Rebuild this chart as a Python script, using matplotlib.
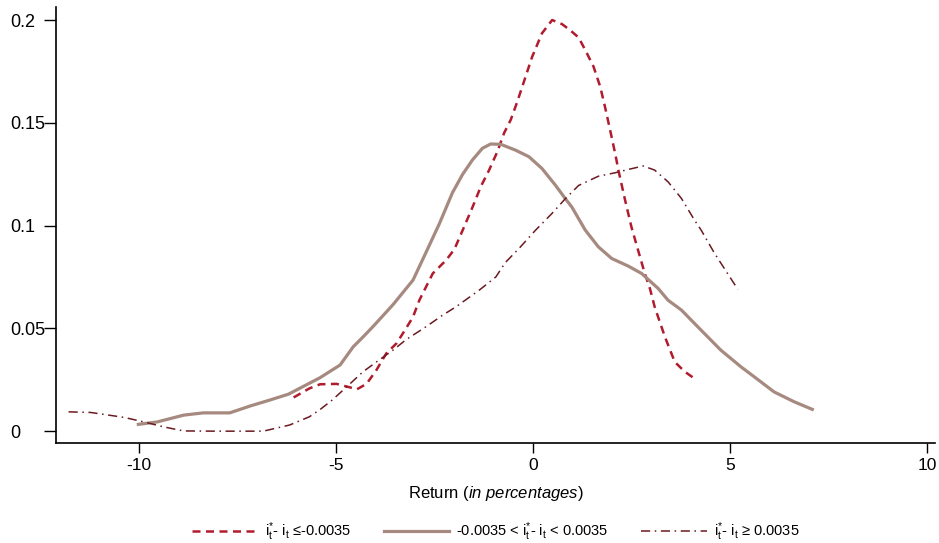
'''
kernel densities of returns by interest rate differential bucket
'''
import matplotlib
matplotlib.use('Agg')
import matplotlib.pyplot as plt

# data
low_x = [-6.07, -5.67, -5.40, -4.98, -4.64, -4.47, -4.22, -3.97, -3.72, -3.46,
         -3.25, -3.04, -2.88, -2.54, -2.20, -1.99, -1.78, -1.53, -1.32, -1.11,
         -0.90, -0.73, -0.56, -0.40, -0.27, -0.02, 0.23, 0.49, 0.74, 0.95,
         1.16, 1.33, 1.54, 1.71, 1.83, 1.96, 2.10, 2.17, 2.34, 2.50,
         2.67, 2.84, 2.97, 3.09, 3.35, 3.60, 3.85, 4.10]
low_y = [0.0164, 0.0208, 0.0228, 0.0230, 0.0213, 0.0203, 0.0230, 0.0297, 0.0378, 0.0427,
         0.0490, 0.0556, 0.0637, 0.0767, 0.0832, 0.0885, 0.0978, 0.1090, 0.1190, 0.1270,
         0.1360, 0.1450, 0.1515, 0.1600, 0.1675, 0.1820, 0.1935, 0.2000, 0.1980, 0.1950,
         0.1915, 0.1854, 0.1773, 0.1675, 0.1578, 0.1465, 0.1340, 0.1270, 0.1124, 0.0994,
         0.0880, 0.0767, 0.0694, 0.0605, 0.0459, 0.0337, 0.0290, 0.0256]

mid_x = [-10.01, -9.53, -8.86, -8.36, -7.69, -7.18, -6.68, -6.20, -5.90, -5.40,
         -4.89, -4.56, -4.30, -4.05, -3.55, -3.04, -2.71, -2.37, -2.04, -1.78,
         -1.53, -1.28, -1.07, -0.81, -0.44, -0.10, 0.23, 0.57, 0.82, 0.99,
         1.33, 1.66, 2.00, 2.42, 2.76, 3.18, 3.43, 3.77, 4.27, 4.77,
         5.28, 5.62, 6.12, 6.63, 7.09]
mid_y = [0.0033, 0.0045, 0.0078, 0.0089, 0.0089, 0.0122, 0.0151, 0.0180, 0.0210, 0.0260,
         0.0322, 0.0410, 0.0460, 0.0510, 0.0615, 0.0735, 0.0870, 0.1010, 0.1160, 0.1250,
         0.1320, 0.1376, 0.1397, 0.1395, 0.1367, 0.1335, 0.1278, 0.1197, 0.1132, 0.1090,
         0.0978, 0.0897, 0.0840, 0.0803, 0.0767, 0.0694, 0.0637, 0.0589, 0.0491, 0.0394,
         0.0313, 0.0264, 0.0191, 0.0143, 0.0106]

high_x = [-11.78, -11.22, -10.37, -9.87, -9.37, -8.86, -8.00, -7.20, -6.84, -6.17,
          -5.67, -5.40, -5.10, -4.72, -4.31, -3.88, -3.55, -3.21, -2.71, -2.29,
          -1.95, -1.36, -0.94, -0.70, -0.35, 0.07, 0.49, 0.82, 1.16, 1.66,
          2.09, 2.42, 2.80, 3.09, 3.43, 3.77, 4.10, 4.27, 4.61, 4.94, 5.20]
high_y = [0.0094, 0.0091, 0.0067, 0.0045, 0.0021, 0.0001, 0.0, 0.0, 0.0, 0.0030,
          0.0070, 0.0105, 0.0150, 0.0216, 0.0289, 0.0349, 0.0394, 0.0446, 0.0508, 0.0564,
          0.0605, 0.0686, 0.0750, 0.0820, 0.0889, 0.0978, 0.1060, 0.1130, 0.1195, 0.1240,
          0.1257, 0.1273, 0.1290, 0.1270, 0.1213, 0.1132, 0.1027, 0.0978, 0.0865, 0.0767,
          0.0690]

labels = [r'$\mathrm{i}_\mathrm{t}^{*}$- $\mathrm{i}_\mathrm{t}$ ≤-0.0035',
          r'-0.0035 < $\mathrm{i}_\mathrm{t}^{*}$- $\mathrm{i}_\mathrm{t}$ < 0.0035',
          r'$\mathrm{i}_\mathrm{t}^{*}$- $\mathrm{i}_\mathrm{t}$ ≥ 0.0035']

yticks = [0, 0.05, 0.1, 0.15, 0.2]
ytick_labels = ['0', '0.05', '0.1', '0.15', '0.2']
xticks = [-10, -5, 0, 5, 10]

# %%
plt.rcParams['font.family'] = ['Liberation Sans', 'DejaVu Sans']
plt.rcParams['mathtext.fontset'] = 'custom'
plt.rcParams['mathtext.rm'] = 'Liberation Sans'
plt.rcParams['mathtext.it'] = 'Liberation Sans:italic'

fig = plt.figure(figsize=(9.39, 5.43), dpi=100)
ax = fig.add_axes([0.0596, 0.184, 0.936, 0.803])

ax.plot(low_x, low_y, color='#b01c2e', lw=1.8, ls=(0, (3.2, 2.2)), label=labels[0])
ax.plot(mid_x, mid_y, color='#a68a80', lw=2.3, ls='-', label=labels[1])
ax.plot(high_x, high_y, color='#6b1a20', lw=1.1, ls=(0, (6, 3, 1, 3)), label=labels[2])

ax.set_xlim(-12.1, 10.2)
ax.set_ylim(-0.0058, 0.2063)
ax.set_xticks(xticks)
ax.set_xticklabels([str(t) for t in xticks])
ax.set_yticks(yticks)
ax.set_yticklabels(ytick_labels)

for s in ['top', 'right']:
    ax.spines[s].set_visible(False)
for s in ['left', 'bottom']:
    ax.spines[s].set_linewidth(1.2)
    ax.spines[s].set_color('black')

ax.tick_params(axis='y', length=9, width=1.0, pad=24, labelsize=13)
ax.tick_params(axis='x', length=7, width=1.0, pad=4, labelsize=12.5)
for lab in ax.get_yticklabels():
    lab.set_horizontalalignment('left')

ax.set_xlabel(r'Return ($\mathit{in\ percentages}$)', fontsize=12, labelpad=8)

fig.legend(loc='center', bbox_to_anchor=(0.528, 0.02), ncol=3, frameon=False,
           fontsize=10.5, handlelength=4.5, handletextpad=0.5, columnspacing=2.2)

fig.savefig('out.png', dpi=100)
